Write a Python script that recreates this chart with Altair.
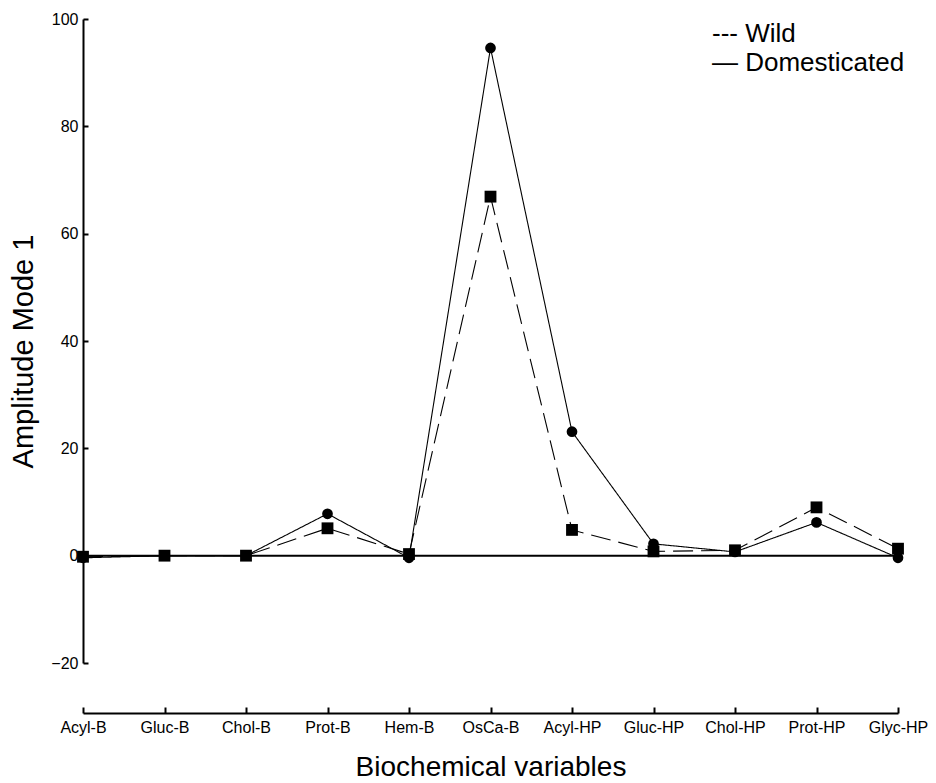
import altair as alt
import pandas as pd

variables = ["Acyl-B", "Gluc-B", "Chol-B", "Prot-B", "Hem-B", "OsCa-B",
             "Acyl-HP", "Gluc-HP", "Chol-HP", "Prot-HP", "Glyc-HP"]
domesticated = [-0.4, 0.0, 0.0, 7.8, -0.4, 94.6, 23.1, 2.2, 0.7, 6.2, -0.4]
wild = [-0.2, 0.0, 0.0, 5.1, 0.3, 66.9, 4.8, 0.8, 1.0, 9.0, 1.3]
y_ticks = [-20, 0, 20, 40, 60, 80, 100]
legend_labels = ["--- Wild", "\u2014 Domesticated"]

rows = []
for s, vals in (("Wild", wild), ("Domesticated", domesticated)):
    for v, val in zip(variables, vals):
        rows.append({"variable": v, "value": val, "series": s})
df = pd.DataFrame(rows)

W, H = 815, 644
FONT = "Liberation Sans"

xscale = alt.Scale(type="point", domain=variables, padding=0)
yscale = alt.Scale(domain=[-20, 100], nice=False, zero=False)

x_main = alt.X("variable:N", sort=variables, scale=xscale,
               axis=alt.Axis(orient="bottom", offset=50, ticks=False, domain=True,
                             domainColor="black", domainWidth=2,
                             labelAngle=0, labelFontSize=16, labelFont=FONT,
                             labelColor="black", labelPadding=6,
                             title="Biochemical variables", titleFontSize=28,
                             titleFont=FONT, titleFontWeight="normal",
                             titleColor="black", titlePadding=18, grid=False))
y_main = alt.Y("value:Q", scale=yscale,
               axis=alt.Axis(orient="left", values=y_ticks, ticks=False, domain=True,
                             domainColor="black", domainWidth=2,
                             labelFontSize=16, labelFont=FONT, labelColor="black",
                             labelPadding=5, title="Amplitude Mode 1",
                             titleFontSize=29, titleFont=FONT,
                             titleFontWeight="normal", titleColor="black",
                             titlePadding=12, titleY=H / 2 + 10, grid=False))

dash = alt.StrokeDash("series:N",
                      scale=alt.Scale(domain=["Wild", "Domesticated"],
                                      range=[[20, 8], [1, 0]]),
                      legend=None)
shape = alt.Shape("series:N",
                  scale=alt.Scale(domain=["Wild", "Domesticated"],
                                  range=["square", "circle"]),
                  legend=None)
size = alt.Size("series:N",
                scale=alt.Scale(domain=["Wild", "Domesticated"], range=[140, 115]),
                legend=None)

base = alt.Chart(df)

lines = base.mark_line(color="black", strokeWidth=1.1).encode(
    x=x_main, y=y_main, strokeDash=dash, detail="series:N")

zero_line = alt.Chart(pd.DataFrame({"z": [0]})).mark_rule(
    color="black", strokeWidth=2).encode(
    y=alt.Y("z:Q", scale=yscale, axis=None))

# points layer carries the inward-pointing tick axes
points = base.mark_point(filled=True, color="black", opacity=1).encode(
    x=alt.X("variable:N", sort=variables, scale=xscale,
            axis=alt.Axis(orient="top", offset=-(H + 50), labels=False,
                          domain=False, ticks=True, tickSize=6, tickWidth=2,
                          tickColor="black", title=None, grid=False)),
    y=alt.Y("value:Q", scale=yscale,
            axis=alt.Axis(orient="right", offset=-W, values=y_ticks,
                          labels=False, domain=False, ticks=True, tickSize=5,
                          tickWidth=2, tickColor="black", title=None,
                          grid=False)),
    shape=shape, size=size)

leg_df = pd.DataFrame({"label": legend_labels})
leg1 = alt.Chart(leg_df.iloc[[0]]).mark_text(
    align="left", baseline="middle", fontSize=26, font=FONT, color="black").encode(
    x=alt.value(629), y=alt.value(15), text="label:N")
leg2 = alt.Chart(leg_df.iloc[[1]]).mark_text(
    align="left", baseline="middle", fontSize=26, font=FONT, color="black").encode(
    x=alt.value(629), y=alt.value(44), text="label:N")

chart = alt.layer(lines, zero_line, points, leg1, leg2).resolve_axis(
    x="independent", y="independent"
).properties(
    width=W, height=H,
    autosize=alt.AutoSizeParams(type="none"),
    padding={"left": 75, "top": 11, "right": 30, "bottom": 120},
    background="white",
).configure_view(stroke=None)

chart.save("out.html", embed_options={"renderer": "svg", "actions": False})
